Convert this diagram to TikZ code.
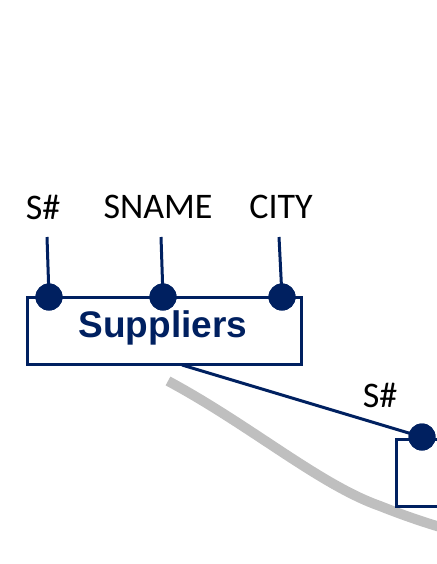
\documentclass[tikz,border=0pt]{standalone}
\usepackage{fontspec}
\setmainfont{Carlito}
\newfontfamily\boldsans{Liberation Sans}
\definecolor{navy}{HTML}{002060}
\definecolor{lgrey}{HTML}{BFBFBF}
\begin{document}
\begin{tikzpicture}[x=1pt,y=-1pt,
  entbox/.style={draw=navy,line width=3pt,fill=white},
  attrline/.style={draw=navy,line width=3pt},
  dotnode/.style={circle,fill=navy,inner sep=0pt,minimum size=27pt},
  attrlabel/.style={font=\fontsize{36}{36}\selectfont,text=black,inner sep=0pt},
  entlabel/.style={font=\boldsans\bfseries\fontsize{37}{37}\selectfont,text=navy,inner sep=0pt}]
\useasboundingbox (0,0) rectangle (436,564);
% grey curve
\draw[lgrey,line width=10pt] (168,381) .. controls (250,425) and (320,485) .. (380,506) .. controls (400,514) and (420,521) .. (440,527);
% Suppliers box
\draw[entbox] (27,297) rectangle (301,364);
\node[entlabel] (sup) at (163,328) {Suppliers};
% second box
\draw[entbox] (396,439) rectangle (450,506);
% attribute labels
\node[attrlabel] (l1) at (43,207) {S\#};
\node[attrlabel] (l2) at (158,207) {SNAME};
\node[attrlabel] (l3) at (281,207) {CITY};
\node[attrlabel] (l4) at (380,395) {S\#};
% attribute line tops
\coordinate (t1) at (47,237);
\coordinate (t2) at (161,237);
\coordinate (t3) at (279,237);
\coordinate (fk) at (182,365);
% dots
\node[dotnode] (d1) at (49,297) {};
\node[dotnode] (d2) at (163,297) {};
\node[dotnode] (d3) at (282,297) {};
\node[dotnode] (d4) at (422,437) {};
\draw[attrline] (t1) -- (d1.center);
\draw[attrline] (t2) -- (d2.center);
\draw[attrline] (t3) -- (d3.center);
\draw[attrline] (fk) -- (d4.center);
\node[dotnode] at (d1) {};
\node[dotnode] at (d2) {};
\node[dotnode] at (d3) {};
\node[dotnode] at (d4) {};
\end{tikzpicture}
\end{document}
